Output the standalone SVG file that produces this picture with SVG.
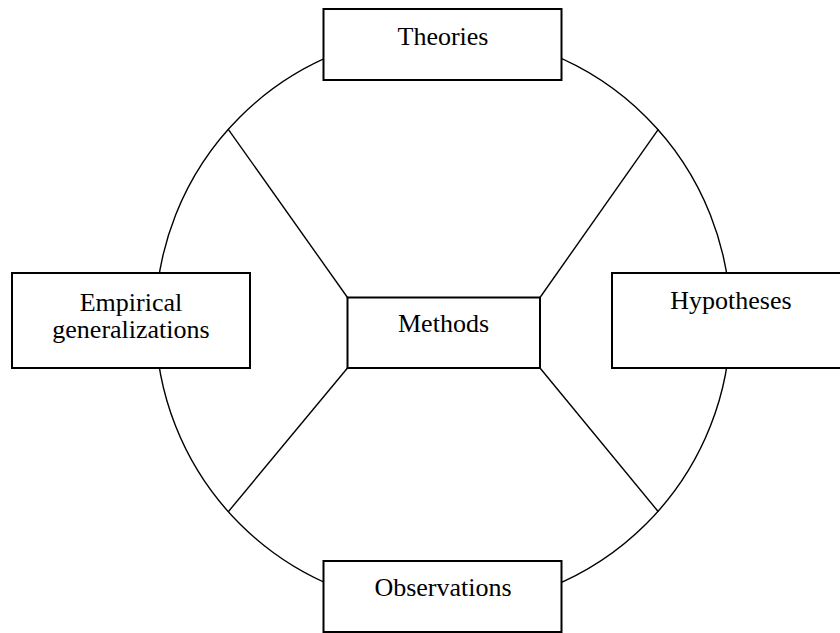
<svg xmlns="http://www.w3.org/2000/svg" width="840" height="633" viewBox="0 0 840 633">
  <style>
    .box { fill: #ffffff; stroke: #000000; stroke-width: 2; }
    .link { fill: none; stroke: #000000; stroke-width: 1.4; }
    .label { font-family: "Liberation Serif", "Times New Roman", serif; font-size: 26px; fill: #000000; text-anchor: middle; }
  </style>
  <rect x="0" y="0" width="840" height="633" fill="#ffffff"/>

  <!-- cycle ring and spokes to the central box -->
  <g id="connectors">
    <circle class="link" cx="443" cy="320.5" r="287.5"/>
    <line class="link" x1="228.3" y1="129.3" x2="347.5" y2="297.5"/>
    <line class="link" x1="658.3" y1="129.3" x2="540" y2="297.5"/>
    <line class="link" x1="228.3" y1="511.7" x2="347.5" y2="368"/>
    <line class="link" x1="658.3" y1="511.7" x2="540" y2="368"/>
  </g>

  <g id="theories">
    <rect class="box" x="323.5" y="9" width="238" height="71"/>
    <text class="label" x="443" y="45">Theories</text>
  </g>

  <g id="empirical-generalizations">
    <rect class="box" x="12" y="273" width="238" height="95"/>
    <text class="label" x="131" y="310.5">Empirical</text>
    <text class="label" x="131" y="338">generalizations</text>
  </g>

  <g id="hypotheses">
    <rect class="box" x="612" y="273" width="238" height="95"/>
    <text class="label" x="731" y="309">Hypotheses</text>
  </g>

  <g id="observations">
    <rect class="box" x="323.5" y="561" width="238" height="71"/>
    <text class="label" x="443" y="596">Observations</text>
  </g>

  <g id="methods">
    <rect class="box" x="347.5" y="297.5" width="192.5" height="70.5"/>
    <text class="label" x="443.5" y="331.5">Methods</text>
  </g>
</svg>
